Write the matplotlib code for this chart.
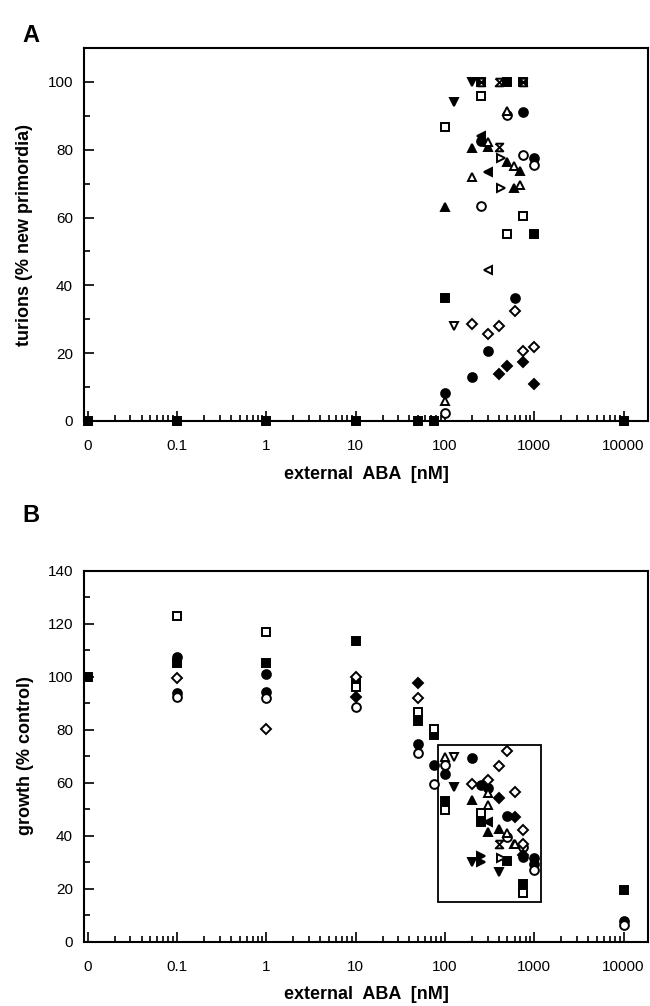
import numpy as np
import matplotlib
matplotlib.use('Agg')
import matplotlib.pyplot as plt
from matplotlib.ticker import LogLocator, FixedLocator, FixedFormatter, MultipleLocator, NullFormatter
from matplotlib.patches import Rectangle

plt.rcParams['font.family'] = ['Liberation Sans', 'DejaVu Sans']

# ---------------- data ----------------
x_ticks = [0, 0.1, 1, 10, 100, 1000, 10000]
x_ticklabels = ['0', '0.1', '1', '10', '100', '1000', '10000']

# Panel A: turions (% new primordia)
A_sq_f_x = [0, 0.1, 1, 10, 50, 75, 10000, 100, 250, 500, 750, 1000]
A_sq_f_y = [0, 0, 0, 0, 0, 0, 0, 36.4, 100, 100, 100, 55.2]
A_sq_o_x = [100, 250, 750, 500]
A_sq_o_y = [86.8, 95.7, 60.5, 55.2]
A_ci_f_x = [750, 250, 1000, 600, 300, 200, 100]
A_ci_f_y = [91, 82.5, 77.5, 36.4, 20.7, 13.1, 8.2]
A_ci_o_x = [500, 750, 1000, 250, 100]
A_ci_o_y = [90.3, 78.3, 75.5, 63.4, 2.3]
A_tu_f_x = [200, 300, 500, 690, 590, 100]
A_tu_f_y = [80.4, 80.7, 76.5, 73.7, 68.8, 63.2]
A_tu_o_x = [500, 300, 590, 200, 690, 100]
A_tu_o_y = [91.5, 82.4, 75.3, 71.9, 69.6, 6.0]
A_td_f_x = [200, 125]
A_td_f_y = [100, 94.2]
A_td_o_x = [125]
A_td_o_y = [28.0]
A_tl_f_x = [250, 300]
A_tl_f_y = [84, 73.5]
A_tl_o_x = [300]
A_tl_o_y = [44.5]
A_tr_o_x = [420, 420]
A_tr_o_y = [77.5, 68.6]
A_hg_x = [250, 400, 400, 750]
A_hg_y = [100, 100, 80.7, 100]
A_di_f_x = [750, 500, 400, 1000]
A_di_f_y = [17.3, 16.2, 13.9, 10.8]
A_di_o_x = [600, 200, 300, 400, 750, 1000]
A_di_o_y = [32.4, 28.6, 25.7, 28.0, 20.6, 21.9]

# Panel B: growth (% control)
B_sq_f_x = [0, 0.1, 1, 10, 10, 50, 75, 100, 250, 500, 750, 10000]
B_sq_f_y = [100, 105.2, 105.2, 113.4, 97.4, 83.2, 77.9, 53.0, 45.2, 30.5, 21.7, 19.4]
B_sq_o_x = [0.1, 1, 10, 50, 75, 100, 250, 750]
B_sq_o_y = [122.8, 116.9, 96.2, 86.7, 80.1, 49.6, 48.4, 18.2]
B_ci_f_x = [0.1, 0.1, 1, 1, 50, 75, 100, 200, 250, 300, 500, 750, 1000, 1000, 10000]
B_ci_f_y = [107.5, 93.7, 100.8, 94.0, 74.5, 66.6, 63.2, 69.1, 59.1, 57.8, 47.4, 32.0, 31.4, 29.2, 7.7]
B_ci_o_x = [0.1, 1, 10, 50, 75, 100, 500, 750, 1000, 10000]
B_ci_o_y = [92.3, 91.8, 88.6, 71.3, 59.3, 66.6, 39.3, 35.8, 27.0, 6.4]
B_di_o_x = [0.1, 1, 10, 50, 200, 300, 400, 500, 600, 750, 750]
B_di_o_y = [99.3, 80.2, 99.9, 92.0, 59.4, 60.9, 66.3, 71.9, 56.5, 42.1, 36.8]
B_di_f_x = [10, 50, 400, 600, 750]
B_di_f_y = [92.4, 97.4, 54.0, 46.9, 32.5]
B_tu_f_x = [200, 300, 400, 590]
B_tu_f_y = [53.4, 41.2, 42.3, 36.8]
B_tu_o_x = [100, 300, 300, 610, 500]
B_tu_o_y = [69.5, 55.9, 51.5, 36.8, 41.0]
B_td_f_x = [125, 200, 400]
B_td_f_y = [58.4, 30.1, 26.3]
B_td_o_x = [125]
B_td_o_y = [69.7]
B_tr_f_x = [250, 250]
B_tr_f_y = [32.3, 30.0]
B_tr_o_x = [420]
B_tr_o_y = [31.4]
B_tl_f_x = [300]
B_tl_f_y = [45.2]
B_hg_x = [400]
B_hg_y = [36.8]

# highlighted range in panel B
box_x = [83, 1200]
box_y = [15, 74]

# ---------------- drawing ----------------
HG = [(-1, 1), (1, 1), (-1, -1), (1, -1), (-1, 1)]


def pos(x):
    x = np.asarray(x, dtype=float)
    return np.where(x == 0, 0.01, x)


def draw(ax, x, y, marker, filled, ms=6):
    ax.plot(pos(x), y, ls='none', marker=marker, ms=ms,
            mfc='black' if filled else 'white', mec='black',
            mew=1.4, clip_on=False, zorder=3)


fig = plt.figure(figsize=(6.5, 10.06), dpi=100)
L = 84 / 650
W = (648 - 84) / 650
H = (421 - 48) / 1006
axA = fig.add_axes([L, 1 - 421 / 1006, W, H])
axB = fig.add_axes([L, 1 - 941.5 / 1006, W, (941.5 - 570.5) / 1006])

sA = [
    (A_sq_f_x, A_sq_f_y, 's', True), (A_sq_o_x, A_sq_o_y, 's', False),
    (A_ci_f_x, A_ci_f_y, 'o', True), (A_ci_o_x, A_ci_o_y, 'o', False),
    (A_tu_f_x, A_tu_f_y, '^', True), (A_tu_o_x, A_tu_o_y, '^', False),
    (A_td_f_x, A_td_f_y, 'v', True), (A_td_o_x, A_td_o_y, 'v', False),
    (A_tl_f_x, A_tl_f_y, '<', True), (A_tl_o_x, A_tl_o_y, '<', False),
    (A_tr_o_x, A_tr_o_y, '>', False), (A_hg_x, A_hg_y, HG, False),
    (A_di_f_x, A_di_f_y, 'D', True), (A_di_o_x, A_di_o_y, 'D', False),
]
sB = [
    (B_sq_f_x, B_sq_f_y, 's', True), (B_sq_o_x, B_sq_o_y, 's', False),
    (B_ci_f_x, B_ci_f_y, 'o', True), (B_ci_o_x, B_ci_o_y, 'o', False),
    (B_di_o_x, B_di_o_y, 'D', False), (B_di_f_x, B_di_f_y, 'D', True),
    (B_tu_f_x, B_tu_f_y, '^', True), (B_tu_o_x, B_tu_o_y, '^', False),
    (B_td_f_x, B_td_f_y, 'v', True), (B_td_o_x, B_td_o_y, 'v', False),
    (B_tr_f_x, B_tr_f_y, '>', True), (B_tr_o_x, B_tr_o_y, '>', False),
    (B_tl_f_x, B_tl_f_y, '<', True), (B_hg_x, B_hg_y, HG, False),
]

for ax, series, ylim, ylab in [(axA, sA, (0, 110), 'turions (% new primordia)'),
                               (axB, sB, (0, 140), 'growth (% control)')]:
    for x, y, m, f in series:
        ms = 5 if m == 'D' else (5.5 if m == HG else 6.3)
        draw(ax, x, y, m, f, ms=ms)
    ax.set_xscale('log')
    ax.set_xlim(0.00906, 18750)
    ax.set_ylim(*ylim)
    ax.xaxis.set_major_locator(FixedLocator(list(pos(x_ticks))))
    ax.xaxis.set_major_formatter(FixedFormatter(x_ticklabels))
    ax.xaxis.set_minor_locator(LogLocator(base=10, subs=np.arange(2, 10)))
    ax.xaxis.set_minor_formatter(NullFormatter())
    ax.yaxis.set_major_locator(MultipleLocator(20))
    ax.yaxis.set_minor_locator(MultipleLocator(10))
    ax.tick_params(which='both', direction='in', width=1.2, labelsize=11,
                   top=False, right=False)
    ax.tick_params(which='major', length=7)
    ax.tick_params(which='minor', length=4)
    ax.tick_params(axis='x', pad=13)
    ax.tick_params(axis='y', pad=8)
    for sp in ax.spines.values():
        sp.set_linewidth(1.5)
    ax.set_xlabel('external  ABA  [nM]', fontsize=13, fontweight='bold', labelpad=9)
    ax.set_ylabel(ylab, fontsize=13, fontweight='bold', labelpad=10)

rect = Rectangle((box_x[0], box_y[0]), box_x[1] - box_x[0], box_y[1] - box_y[0],
                 fill=False, ec='black', lw=1.3, zorder=2)
axB.add_patch(rect)

fig.text(22 / 650, 1 - 36 / 1006, 'A', fontsize=17, fontweight='bold', va='center', ha='left')
fig.text(22 / 650, 1 - 515 / 1006, 'B', fontsize=17, fontweight='bold', va='center', ha='left')

fig.savefig('out.png', dpi=100)
